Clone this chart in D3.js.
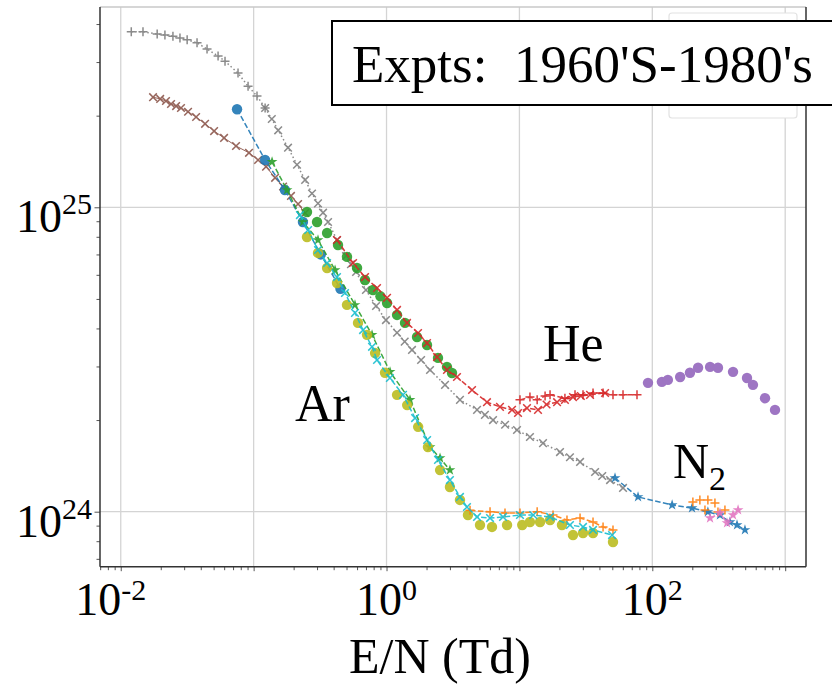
<!DOCTYPE html>
<html>
<head>
<meta charset="utf-8">
<script src="https://cdn.jsdelivr.net/npm/d3@7"></script>
<style>
  body { margin: 0; background: #fff; }
  svg { display: block; font-family: "Liberation Serif", "DejaVu Serif", serif; }
</style>
</head>
<body>
<svg id="chart" width="832" height="685"></svg>
<script>
// E/N in Td ; y values in units of 1e24
const xTicks = [1e-2, 1e-1, 1, 10, 100, 1000]
const xTickExp = [-2, 0, 2]
const yTicks = [1, 10]
const yTickExp = [24, 25]
const gasLabels = ['He', 'Ar']

const grayPlusPts = [[0.012,37.7],[0.0147,37.7],[0.0188,37.1],[0.0215,36.8],[0.0247,36.5],[0.0279,36.0],[0.0316,35.5],[0.0375,34.7],[0.0446,33.1],[0.054,31.4],[0.0609,30.2],[0.0763,27.6],[0.0908,25.0],[0.106,23.2],[0.122,21.2]]
const grayCrossPts = [[0.122,21.2],[0.137,19.5],[0.153,17.9],[0.1815,15.7],[0.212,13.8],[0.244,12.3],[0.275,11.1],[0.305,10.3],[0.333,9.6],[0.363,8.95],[0.424,7.81],[0.496,6.92],[0.54,6.5],[0.59,6.13],[0.70,5.35],[0.834,4.74],[0.99,4.26],[1.2,3.87],[1.37,3.62],[1.555,3.40],[1.82,3.15],[2.125,2.92],[2.755,2.61],[3.57,2.33],[4.8,2.16],[5.5,2.08],[6.33,2.0],[7.8,1.93],[9.59,1.855],[12.0,1.76],[15.05,1.68],[20.2,1.57],[24.0,1.51],[28.6,1.457],[37.1,1.35],[42.0,1.31],[48.1,1.27],[60.2,1.197]]
const brownPts = [[0.0175,23.0],[0.0198,22.7],[0.0219,22.35],[0.0239,21.85],[0.0261,21.5],[0.0284,21.2],[0.0321,20.6],[0.0369,19.8],[0.0431,18.8],[0.0504,17.8],[0.0599,16.9],[0.0737,15.9],[0.0923,15.1],[0.108,14.3],[0.124,13.6],[0.145,12.5],[0.1665,11.7],[0.191,10.9],[0.216,10.25],[0.244,9.58]]
const blueCirclePts = [[0.075,21.0],[0.122,14.3],[0.172,11.4],[0.235,8.95],[0.32,7.0],[0.45,5.4]]
const greenStarPts = [[0.1376,14.1],[0.1784,11.4],[0.2353,8.95],[0.305,7.81],[0.41,6.22],[0.579,4.78],[0.778,3.81],[1.063,2.88],[1.502,2.33],[2.125,1.63],[2.527,1.50],[3.0,1.37]]
const olivePts = [[0.252,7.99],[0.305,7.08],[0.357,6.32],[0.424,5.64],[0.504,4.78],[0.61,4.17],[0.713,3.81],[0.82,3.32],[0.974,2.86],[1.2,2.42],[1.43,2.24],[1.73,1.90],[2.05,1.63],[2.53,1.37],[3.0,1.205],[3.57,1.093],[4.1,0.975],[5.05,0.904],[6.22,0.891],[8.07,0.904],[10.5,0.904],[12.0,0.925],[14.3,0.925],[17.0,0.939],[20.9,0.904],[25.3,0.838],[30.1,0.851],[35.8,0.851],[50.6,0.795]]
const greenCirclePts = [[0.252,9.65],[0.30,8.95],[0.357,8.23],[0.4315,7.52],[0.504,6.87],[0.60,6.32],[0.689,5.77],[0.791,5.35],[0.9,5.1],[1.009,4.85],[1.2,4.43],[1.378,4.17],[1.696,3.75],[2.017,3.53],[2.44,3.20],[2.85,2.99],[3.11,2.855]]
const orangeArPts = [[4.25,1.01],[6.01,1.0],[7.79,0.99],[10.1,0.99],[13.6,1.0],[17.9,0.975],[22.8,0.939],[28.6,0.953],[35.8,0.925],[42.6,0.891],[50.6,0.871]]
const cyanPts = [[0.223,9.43],[0.257,8.42],[0.305,7.24],[0.357,6.56],[0.424,5.90],[0.487,5.23],[0.579,4.50],[0.666,3.95],[0.778,3.48],[0.848,3.15],[1.06,2.75],[1.33,2.42],[1.64,2.03],[2.02,1.72],[2.44,1.48],[3.0,1.27],[3.57,1.118],[4.03,1.036],[4.8,0.961],[6.01,0.953],[7.53,0.961],[10.1,0.975],[12.7,0.975],[17.0,0.961],[24.0,0.904],[30.1,0.891],[35.8,0.871],[49.8,0.838]]
const redCrossPts = [[0.424,7.81],[0.56,6.56],[0.689,5.90],[0.848,5.43],[1.009,5.04],[1.2,4.60],[1.426,4.17],[1.726,3.865],[2.017,3.58],[2.40,3.22],[2.85,2.92],[3.39,2.77],[4.40,2.51],[5.70,2.29],[7.14,2.21],[8.80,2.16],[9.76,2.11],[11.4,2.19],[13.8,2.16],[16.0,2.25],[19.2,2.29],[22.0,2.33],[25.3,2.38],[29.0,2.40],[34.0,2.42],[44.1,2.455]]
const redPlusPts = [[10.1,2.33],[12.0,2.38],[13.6,2.33],[15.6,2.40],[17.0,2.42],[22.0,2.36],[26.2,2.42],[30.1,2.42],[35.8,2.455],[42.6,2.455],[50.6,2.42],[60.2,2.42],[76.7,2.42]]
const purplePts = [[92.8,2.65],[118,2.67],[131,2.71],[162,2.77],[192,2.86],[221,2.97],[272,2.99],[312,2.97],[405,2.88],[516,2.75],[572,2.61],[705,2.36],[838,2.16]]
const blueStarPts = [[52.4,1.29],[78.1,1.118],[141,1.052],[199,1.028],[262,0.998],[323,0.975],[384,0.925],[434,0.904],[498,0.871]]
const orangeN2Pts = [[202,1.076],[228,1.093],[249,1.013],[262,1.093],[296,1.068],[312,0.998],[352,1.013]]
const pinkPts = [[272,0.953],[323,0.99],[365,0.918],[405,0.975],[442,1.013]]

const series = [
  { pts: grayPlusPts, color: '#7f7f7f', marker: 'plus', dash: 'dot' },
  { pts: grayCrossPts, color: '#7f7f7f', marker: 'cross', dash: 'dot' },
  { pts: brownPts, color: '#8c564b', marker: 'cross', dash: 'solid' },
  { pts: blueCirclePts, color: '#1f77b4', marker: 'circle', dash: 'dash' },
  { pts: greenStarPts, color: '#2ca02c', marker: 'star', dash: 'dash' },
  { pts: olivePts, color: '#bcbd22', marker: 'circle', dash: 'none' },
  { pts: greenCirclePts, color: '#2ca02c', marker: 'circle', dash: 'none' },
  { pts: orangeArPts, color: '#ff7f0e', marker: 'plus', dash: 'dash' },
  { pts: cyanPts, color: '#17becf', marker: 'cross', dash: 'dash' },
  { pts: redCrossPts, color: '#d62728', marker: 'cross', dash: 'dash' },
  { pts: redPlusPts, color: '#d62728', marker: 'plus', dash: 'dash' },
  { pts: purplePts, color: '#9467bd', marker: 'circle', dash: 'none' },
  { pts: blueStarPts, color: '#1f77b4', marker: 'star', dash: 'dash' },
  { pts: orangeN2Pts, color: '#ff7f0e', marker: 'plus', dash: 'none' },
  { pts: pinkPts, color: '#e377c2', marker: 'star', dash: 'dash' },
]

const svg = d3.select('#chart')
const L = 100, R = 806, T = 7, B = 566.7

const x = d3.scaleLog().domain([0.00698, 1434]).range([L, R])
const y = d3.scaleLog().domain([0.6596, 45.5]).range([B, T])

// grid
svg.append('g').selectAll('line').data(xTicks).join('line')
  .attr('x1', d => x(d)).attr('x2', d => x(d))
  .attr('y1', T).attr('y2', B)
  .attr('stroke', '#d4d4d4').attr('stroke-width', 1.3)
svg.append('g').selectAll('line').data(yTicks).join('line')
  .attr('x1', L).attr('x2', R)
  .attr('y1', d => y(d)).attr('y2', d => y(d))
  .attr('stroke', '#d4d4d4').attr('stroke-width', 1.3)

// minor ticks
const xMinor = [], yMinor = []
for (let e = -3; e <= 3; e++) for (let k = 2; k <= 9; k++) {
  const v = k * Math.pow(10, e)
  if (v > 0.00698 && v < 1434) xMinor.push(v)
  if (v > 0.6596 && v < 45.5) yMinor.push(v)
}
svg.append('g').attr('transform', `translate(0,${B})`)
  .call(d3.axisBottom(x).tickValues(xMinor).tickSize(3.5).tickFormat(''))
svg.append('g').attr('transform', `translate(0,${B})`)
  .call(d3.axisBottom(x).tickValues(xTicks).tickSize(4.5).tickFormat(''))
svg.append('g').attr('transform', `translate(${L},0)`)
  .call(d3.axisLeft(y).tickValues(yMinor).tickSize(3.5).tickFormat(''))
svg.append('g').attr('transform', `translate(${L},0)`)
  .call(d3.axisLeft(y).tickValues(yTicks).tickSize(5.5).tickFormat(''))
svg.selectAll('.domain').remove()
svg.selectAll('.tick line').attr('stroke', '#555').attr('stroke-width', 1)

// series
const lineGen = d3.line().x(d => x(d[0])).y(d => y(d[1]))
const dashes = { dash: '5.5,2.4', dot: '1.5,2.5', solid: null }
const plotArea = svg.append('g')

function markerPath(kind) {
  if (kind === 'plus') return 'M-4.5,0H4.5M0,-4.5V4.5'
  if (kind === 'cross') return 'M-3.8,-3.8L3.8,3.8M-3.8,3.8L3.8,-3.8'
  if (kind === 'star') return d3.symbol(d3.symbolStar, 36)()
  return null
}

series.forEach(s => {
  const g = plotArea.append('g').attr('opacity', 0.9)
  if (s.dash !== 'none') {
    g.append('path').datum(s.pts)
      .attr('d', lineGen)
      .attr('fill', 'none')
      .attr('stroke', s.color)
      .attr('stroke-width', s.dash === 'solid' ? 1 : 1.5)
      .attr('stroke-dasharray', dashes[s.dash])
  }
  if (s.marker === 'circle') {
    g.selectAll('circle').data(s.pts).join('circle')
      .attr('cx', d => x(d[0])).attr('cy', d => y(d[1]))
      .attr('r', 5.2).attr('fill', s.color)
  } else {
    const stroked = s.marker !== 'star'
    g.selectAll('path.m').data(s.pts).join('path')
      .attr('class', 'm')
      .attr('transform', d => `translate(${x(d[0])},${y(d[1])})`)
      .attr('d', markerPath(s.marker))
      .attr('fill', stroked ? 'none' : s.color)
      .attr('stroke', stroked ? s.color : 'none')
      .attr('stroke-width', 1.5)
  }
})

// spines
svg.append('line').attr('x1', L).attr('x2', R).attr('y1', T).attr('y2', T)
  .attr('stroke', '#c8c8c8').attr('stroke-width', 1.5)
svg.append('line').attr('x1', L).attr('x2', R).attr('y1', B).attr('y2', B)
  .attr('stroke', '#333').attr('stroke-width', 1.5)
svg.append('line').attr('x1', L).attr('x2', L).attr('y1', T).attr('y2', B)
  .attr('stroke', '#333').attr('stroke-width', 1.5)
svg.append('line').attr('x1', R).attr('x2', R).attr('y1', T).attr('y2', B)
  .attr('stroke', '#333').attr('stroke-width', 1.5)

// tick labels
xTickExp.forEach(e => {
  const t = svg.append('text')
    .attr('x', x(Math.pow(10, e)) + (e < 0 ? -10 : 0))
    .attr('y', 615)
    .attr('text-anchor', 'middle')
    .attr('font-size', 46)
  t.append('tspan').text('10')
  t.append('tspan').attr('dy', -15).attr('font-size', 30).text(e < 0 ? '-' + (-e) : e)
})
yTicks.forEach((v, i) => {
  const t = svg.append('text')
    .attr('x', 92)
    .attr('y', y(v) + 25)
    .attr('text-anchor', 'end')
    .attr('font-size', 46)
  t.append('tspan').text('10')
  t.append('tspan').attr('dy', -18).attr('font-size', 30).text(yTickExp[i])
})

svg.append('text').attr('x', 440).attr('y', 673)
  .attr('text-anchor', 'middle').attr('font-size', 50)
  .text('E/N (Td)')

// hidden legend frame
svg.append('rect').attr('x', 669).attr('y', 13).attr('width', 128).attr('height', 105)
  .attr('rx', 3).attr('fill', '#fff').attr('stroke', '#e2e2e2').attr('stroke-width', 1.2)

// annotation box
svg.append('rect').attr('x', 332).attr('y', 21).attr('width', 520).attr('height', 84)
  .attr('fill', '#fff').attr('stroke', '#000').attr('stroke-width', 2)
svg.append('text').attr('x', 352).attr('y', 82)
  .attr('font-size', 53).attr('xml:space', 'preserve').style('white-space', 'pre')
  .text("Expts:  1960'S-1980's")

svg.append('text').attr('x', 543).attr('y', 361).attr('font-size', 52).text(gasLabels[0])
svg.append('text').attr('x', 295).attr('y', 421).attr('font-size', 52).text(gasLabels[1])
const n2 = svg.append('text').attr('x', 673).attr('y', 478).attr('font-size', 50)
n2.append('tspan').text('N')
n2.append('tspan').attr('dy', 12).attr('font-size', 34).text('2')
</script>
</body>
</html>
